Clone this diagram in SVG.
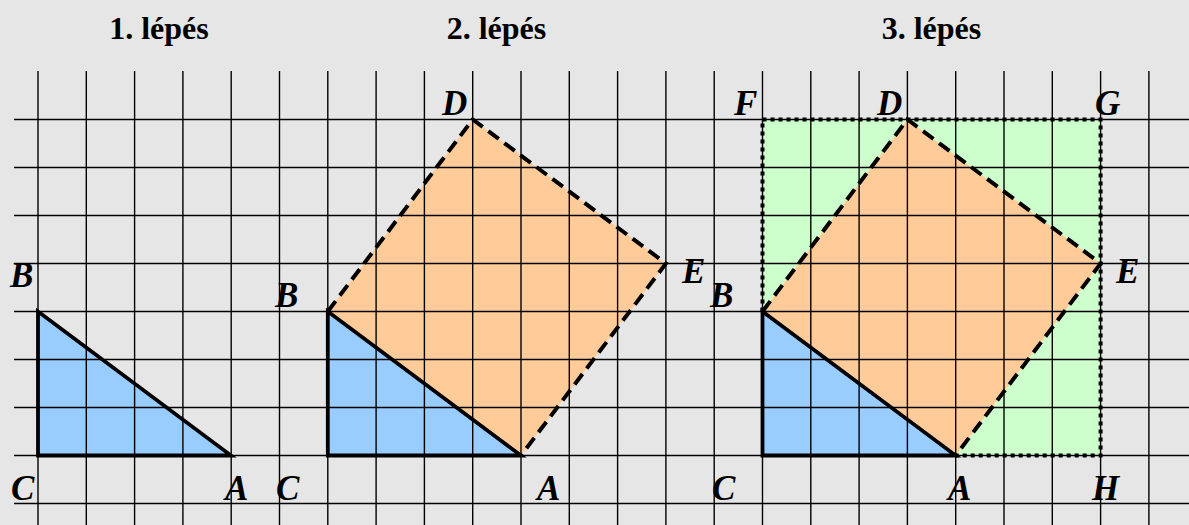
<svg xmlns="http://www.w3.org/2000/svg" width="1189" height="525" viewBox="0 0 1189 525">
<style>
.title{font-family:"Liberation Serif","Times New Roman",serif;font-weight:bold;font-size:32px;fill:#000;text-anchor:middle}
.lbl{font-family:"Liberation Serif","Times New Roman",serif;font-weight:bold;font-style:italic;font-size:35px;fill:#000}
.grid line{stroke:#000;stroke-width:1.4}
.tri{fill:#99ccff;stroke:none}
.sq{fill:#ffcc99;stroke:none}
.rect{fill:#ccffcc;stroke:none}
.solid{fill:none;stroke:#000;stroke-width:3.8;stroke-linejoin:miter}
.dash{fill:none;stroke:#000;stroke-width:4;stroke-dasharray:13,7}
.dot{fill:none;stroke:#000;stroke-width:4;stroke-dasharray:4,4}
</style>
<rect width="1189" height="525" fill="#e6e6e6"/>
<g id="fills">
<polygon class="rect" points="762.5,119.5 1100.6,119.5 1100.6,455.5 762.5,455.5"/>
<polygon class="sq" points="327.8,311.5 472.7,119.5 665.9,263.5 521,455.5"/>
<polygon class="sq" points="762.5,311.5 907.4,119.5 1100.6,263.5 955.7,455.5"/>
<polygon class="tri" points="38,311.5 38,455.5 231,455.5"/>
<polygon class="tri" points="327.8,311.5 327.8,455.5 521,455.5"/>
<polygon class="tri" points="762.5,311.5 762.5,455.5 955.7,455.5"/>
</g>
<g id="grid" class="grid">
<line x1="14" y1="119.5" x2="1189" y2="119.5"/>
<line x1="14" y1="167.5" x2="1189" y2="167.5"/>
<line x1="14" y1="215.5" x2="1189" y2="215.5"/>
<line x1="14" y1="263.5" x2="1189" y2="263.5"/>
<line x1="14" y1="311.5" x2="1189" y2="311.5"/>
<line x1="14" y1="359.5" x2="1189" y2="359.5"/>
<line x1="14" y1="407.5" x2="1189" y2="407.5"/>
<line x1="14" y1="455.5" x2="1189" y2="455.5"/>
<line x1="14" y1="503.5" x2="1189" y2="503.5"/>
<line x1="38" y1="71" x2="38" y2="525"/>
<line x1="86.3" y1="71" x2="86.3" y2="525"/>
<line x1="134.6" y1="71" x2="134.6" y2="525"/>
<line x1="182.9" y1="71" x2="182.9" y2="525"/>
<line x1="231.2" y1="71" x2="231.2" y2="525"/>
<line x1="279.5" y1="71" x2="279.5" y2="525"/>
<line x1="327.8" y1="71" x2="327.8" y2="525"/>
<line x1="376.1" y1="71" x2="376.1" y2="525"/>
<line x1="424.4" y1="71" x2="424.4" y2="525"/>
<line x1="472.7" y1="71" x2="472.7" y2="525"/>
<line x1="521" y1="71" x2="521" y2="525"/>
<line x1="569.3" y1="71" x2="569.3" y2="525"/>
<line x1="617.6" y1="71" x2="617.6" y2="525"/>
<line x1="665.9" y1="71" x2="665.9" y2="525"/>
<line x1="714.2" y1="71" x2="714.2" y2="525"/>
<line x1="762.5" y1="71" x2="762.5" y2="525"/>
<line x1="810.8" y1="71" x2="810.8" y2="525"/>
<line x1="859.1" y1="71" x2="859.1" y2="525"/>
<line x1="907.4" y1="71" x2="907.4" y2="525"/>
<line x1="955.7" y1="71" x2="955.7" y2="525"/>
<line x1="1004" y1="71" x2="1004" y2="525"/>
<line x1="1052.3" y1="71" x2="1052.3" y2="525"/>
<line x1="1100.6" y1="71" x2="1100.6" y2="525"/>
<line x1="1148.9" y1="71" x2="1148.9" y2="525"/>
</g>
<g id="connectors">
<polyline class="dot" points="762.5,311.5 762.5,119.5 1100.6,119.5 1100.6,455.5 955.7,455.5"/>
<polyline class="dash" points="327.8,311.5 472.7,119.5 665.9,263.5 521,455.5"/>
<polyline class="dash" points="762.5,311.5 907.4,119.5 1100.6,263.5 955.7,455.5"/>
<polygon class="solid" points="38,311.5 38,455.5 231,455.5"/>
<polygon class="solid" points="327.8,311.5 327.8,455.5 521,455.5"/>
<polygon class="solid" points="762.5,311.5 762.5,455.5 955.7,455.5"/>
</g>
<g id="step1">
<text class="title" x="159" y="39">1. lépés</text>
<text class="lbl" x="10" y="287">B</text>
<text class="lbl" x="11" y="500">C</text>
<text class="lbl" x="225" y="500">A</text>
</g>
<g id="step2">
<text class="title" x="496.5" y="39">2. lépés</text>
<text class="lbl" x="275" y="307">B</text>
<text class="lbl" x="276" y="500">C</text>
<text class="lbl" x="537" y="500">A</text>
<text class="lbl" x="442" y="115">D</text>
<text class="lbl" x="682" y="283">E</text>
</g>
<g id="step3">
<text class="title" x="931.5" y="39">3. lépés</text>
<text class="lbl" x="734" y="115">F</text>
<text class="lbl" x="877" y="115">D</text>
<text class="lbl" x="1095" y="115">G</text>
<text class="lbl" x="710" y="307">B</text>
<text class="lbl" x="1116" y="283">E</text>
<text class="lbl" x="712" y="500">C</text>
<text class="lbl" x="948" y="500">A</text>
<text class="lbl" x="1092" y="500">H</text>
</g>
</svg>
